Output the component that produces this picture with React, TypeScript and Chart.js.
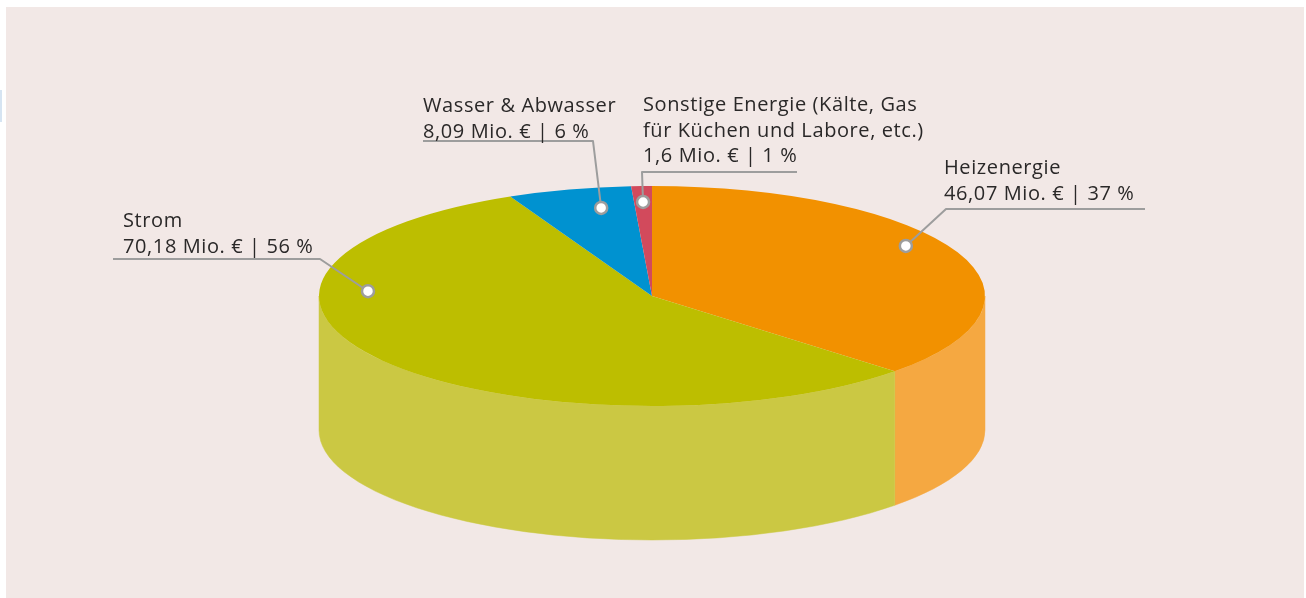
import React, { useEffect, useRef } from 'react';
import { Chart, registerables } from 'chart.js';

Chart.register(...registerables);

// ---- data ----
const categories = ['Heizenergie', 'Strom', 'Wasser & Abwasser', 'Sonstige Energie (Kälte, Gas für Küchen und Labore, etc.)'];
const labelTitles = [['Heizenergie'], ['Strom'], ['Wasser & Abwasser'], ['Sonstige Energie (Kälte, Gas', 'für Küchen und Labore, etc.)']];
const valuesMio = [46.07, 70.18, 8.09, 1.6];
const percents = [37, 56, 6, 1];

// ---- styles ----
const topColors = ['#f29100', '#bdbe00', '#0092d0', '#d24a5c'];
const sideColors = ['#f5a841', '#cbc843', '#0a7fb5', '#b53d4d'];
const PIE = { cx: 652, cy: 296, rx: 333, ry: 110, depth: 134 };
const labelLayout = [
  { textX: 944, baseY: 174, lineY: 209, lineFrom: 1145, lineTo: 946, t: 0.444, r: 0.888 },
  { textX: 123, baseY: 227, lineY: 259, lineFrom: 113, lineTo: 320, t: 0.693, r: 0.854 },
  { textX: 423, baseY: 112, lineY: 141, lineFrom: 423, lineTo: 593, t: 0.667, r: 0.815 },
  { textX: 643, baseY: 111, lineY: 172, lineFrom: 797, lineTo: 642, t: 0.5, r: 0.855 },
];
const FONT = '20px "Open Sans"';
const LETTER_SPACING = '0.6px';
const LINE_H = 25.5;

const fmt = (v: number) => String(v).replace('.', ',');

const pie3d = {
  id: 'pie3d',
  beforeDatasetsDraw(chart: any) {
    const ctx: CanvasRenderingContext2D = chart.ctx;
    const arcs = chart.getDatasetMeta(0).data as any[];
    if (!arcs.length) return;
    const { cx, cy, rx, ry, depth } = PIE;
    arcs.forEach((arc, i) => {
      const s = arc.startAngle;
      const e = arc.endAngle;
      for (const shift of [0, 2 * Math.PI, -2 * Math.PI]) {
        const a = Math.max(s + shift, 0);
        const b = Math.min(e + shift, Math.PI);
        if (b > a) {
          ctx.beginPath();
          ctx.ellipse(cx, cy, rx, ry, 0, a, b);
          ctx.ellipse(cx, cy + depth, rx, ry, 0, b, a, true);
          ctx.closePath();
          ctx.fillStyle = sideColors[i];
          ctx.fill();
          ctx.strokeStyle = sideColors[i];
          ctx.lineWidth = 0.5;
          ctx.stroke();
        }
      }
    });
    const a0 = arcs[0];
    const R = a0.outerRadius;
    ctx.save();
    ctx.translate(cx, cy);
    ctx.scale(rx / R, ry / R);
    ctx.translate(-a0.x, -a0.y);
  },
  afterDatasetsDraw(chart: any) {
    const ctx: CanvasRenderingContext2D = chart.ctx;
    const arcs = chart.getDatasetMeta(0).data as any[];
    if (!arcs.length) return;
    ctx.restore();
    const { cx, cy, rx, ry } = PIE;
    arcs.forEach((arc, i) => {
      const L = labelLayout[i];
      const ang = arc.startAngle + (arc.endAngle - arc.startAngle) * L.t;
      const dx = cx + rx * L.r * Math.cos(ang);
      const dy = cy + ry * L.r * Math.sin(ang);
      ctx.save();
      ctx.strokeStyle = '#9d9d9d';
      ctx.lineWidth = 2;
      ctx.lineJoin = 'round';
      ctx.beginPath();
      ctx.moveTo(L.lineFrom, L.lineY);
      ctx.lineTo(L.lineTo, L.lineY);
      ctx.lineTo(dx, dy);
      ctx.stroke();
      ctx.beginPath();
      ctx.arc(dx, dy, 6, 0, Math.PI * 2);
      ctx.fillStyle = '#ffffff';
      ctx.fill();
      ctx.lineWidth = 2.5;
      ctx.stroke();
      const lines = [...labelTitles[i], `${fmt(valuesMio[i])} Mio. € | ${percents[i]} %`];
      ctx.font = FONT;
      (ctx as any).letterSpacing = LETTER_SPACING;
      ctx.fillStyle = '#2a2828';
      ctx.textBaseline = 'alphabetic';
      ctx.textAlign = 'left';
      lines.forEach((s, k) => ctx.fillText(s, L.textX, Math.round(L.baseY + k * LINE_H)));
      ctx.restore();
    });
  },
};

export default function App() {
  const ref = useRef<HTMLCanvasElement>(null);
  useEffect(() => {
    if (!ref.current) return;
    const chart = new Chart(ref.current, {
      type: 'pie',
      data: {
        labels: categories,
        datasets: [
          {
            data: percents,
            backgroundColor: topColors,
            borderWidth: 0,
            clip: false as any,
          } as any,
        ],
      },
      options: {
        responsive: false,
        animation: false,
        events: [],
        plugins: { legend: { display: false }, tooltip: { enabled: false } },
      },
      plugins: [pie3d],
    });
    return () => chart.destroy();
  }, []);
  return (
    <div style={{ position: 'absolute', left: 0, top: 0, width: 1306, height: 598, background: '#ffffff', overflow: 'hidden' }}>
      <div style={{ position: 'absolute', left: 0, top: 90, width: 2, height: 32, background: '#d6e4f2' }} />
      <div style={{ position: 'absolute', left: 6, top: 7, width: 1298, height: 591, background: '#f2e8e6' }} />
      <canvas ref={ref} width={1306} height={598} style={{ position: 'absolute', left: 0, top: 0 }} />
    </div>
  );
}
